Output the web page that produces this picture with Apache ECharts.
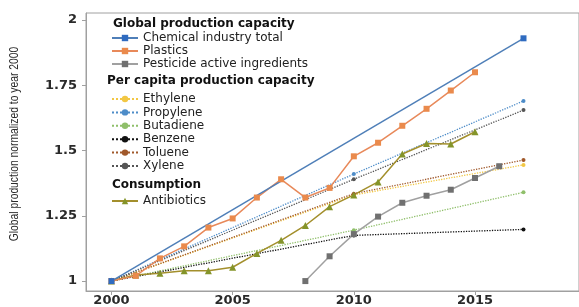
<!DOCTYPE html>
<html>
<head>
<meta charset="utf-8">
<script src="https://cdn.jsdelivr.net/npm/echarts@6/dist/echarts.min.js"></script>
<style>
  html, body { margin: 0; padding: 0; background: #fff; }
  #chart { width: 579px; height: 307px; }
</style>
</head>
<body>
<div id="chart"></div>
<script>
// 年份
const years = [2000, 2001, 2002, 2003, 2004, 2005, 2006, 2007, 2008, 2009, 2010, 2011, 2012, 2013, 2014, 2015, 2016, 2017];
const xTicks = [2000, 2005, 2010, 2015];
const yTicks = [1, 1.25, 1.5, 1.75, 2];

// Global production capacity
const chemTotalYears = [2000, 2017];
const chemTotal = [1.0, 1.93];
const plastics = [1.0, 1.02, 1.087, 1.133, 1.205, 1.24, 1.32, 1.39, 1.32, 1.357, 1.478, 1.53, 1.595, 1.66, 1.73, 1.80];
const pesticideYears = [2008, 2009, 2010, 2011, 2012, 2013, 2014, 2015, 2016];
const pesticide = [1.0, 1.095, 1.18, 1.247, 1.30, 1.327, 1.35, 1.395, 1.44];

// Per capita production capacity (2000, 2010, 2017)
const capitaYears = [2000, 2010, 2017];
const ethylene = [1.0, 1.33, 1.445];
const propylene = [1.0, 1.41, 1.69];
const butadiene = [1.0, 1.195, 1.34];
const benzene = [1.0, 1.175, 1.198];
const toluene = [1.0, 1.335, 1.464];
const xylene = [1.0, 1.39, 1.655];

// Consumption
const antibiotics = [1.0, 1.023, 1.03, 1.04, 1.04, 1.053, 1.106, 1.156, 1.213, 1.285, 1.33, 1.38, 1.487, 1.527, 1.525, 1.572];

const pair = (xs, ys) => ys.map((v, i) => [xs[i], v]);

const solidLine = (name, xs, ys, lineColor, markColor, symbol, size) => ({
  name: name,
  type: 'line',
  data: pair(xs, ys),
  symbol: symbol,
  symbolSize: size,
  showAllSymbol: true,
  lineStyle: { color: lineColor, width: 1.5 },
  itemStyle: { color: markColor },
  emphasis: { disabled: true }
});

const dotLine = (name, ys, color) => ({
  name: name,
  type: 'line',
  data: pair(capitaYears, ys),
  symbol: 'circle',
  symbolSize: 4,
  lineStyle: { color: color, width: 1.3, type: 'dotted' },
  itemStyle: { color: color },
  emphasis: { disabled: true }
});

const legendBase = {
  orient: 'vertical',
  selectedMode: false,
  itemWidth: 26,
  itemHeight: 8,
  textStyle: { fontFamily: 'DejaVu Sans', fontSize: 12, color: '#222', lineHeight: 13 }
};

const headStyle = { fontFamily: 'DejaVu Sans', fontSize: 12, fontWeight: 'bold', fill: '#111' };
const tickFont = { fontFamily: 'DejaVu Sans', fontSize: 13, fontWeight: 'bold', color: '#2a2a2a' };

const myChart = echarts.init(document.getElementById('chart'));
const option = {
  animation: false,
  grid: {
    left: 86, top: 13, right: -10, bottom: 14,
    show: true, borderColor: '#a0a0a0', borderWidth: 1
  },
  xAxis: {
    type: 'value',
    min: 1998.95,
    max: 2019.29,
    splitLine: { show: false },
    axisLine: { lineStyle: { color: '#a0a0a0' } },
    axisTick: { customValues: xTicks, length: 4, lineStyle: { color: '#a0a0a0' } },
    axisLabel: Object.assign({ customValues: xTicks, margin: 3, formatter: v => String(v) }, tickFont)
  },
  yAxis: {
    type: 'value',
    min: 0.962,
    max: 2.027,
    splitLine: { show: false },
    axisLine: { show: true, lineStyle: { color: '#a0a0a0' } },
    axisTick: { show: true, customValues: yTicks, length: 4, lineStyle: { color: '#a0a0a0' } },
    axisLabel: Object.assign({ customValues: yTicks, margin: 9 }, tickFont)
  },
  legend: [
    Object.assign({}, legendBase, {
      left: 106, top: 26.5, itemGap: 0,
      data: ['Chemical industry total', 'Plastics', 'Pesticide active ingredients']
    }),
    Object.assign({}, legendBase, {
      left: 106, top: 87.5, itemGap: 0.4,
      data: ['Ethylene', 'Propylene', 'Butadiene', 'Benzene', 'Toluene', 'Xylene']
    }),
    Object.assign({}, legendBase, {
      left: 106, top: 189.5, itemGap: 0,
      data: ['Antibiotics']
    })
  ],
  graphic: [
    { type: 'text', left: 113, top: 18, style: Object.assign({ text: 'Global production capacity' }, headStyle) },
    { type: 'text', left: 107, top: 75, style: Object.assign({ text: 'Per capita production capacity' }, headStyle) },
    { type: 'text', left: 112, top: 179, style: Object.assign({ text: 'Consumption' }, headStyle) },
    {
      // 纵轴标题（窄字体效果用 scaleX 压缩）
      type: 'text', x: 15, y: 144, rotation: Math.PI / 2, scaleX: 0.86,
      style: {
        text: 'Global production normalized to year 2000',
        fontFamily: 'Liberation Sans', fontSize: 12, fill: '#2a2a2a',
        align: 'center', verticalAlign: 'middle'
      }
    }
  ],
  series: [
    dotLine('Ethylene', ethylene, '#f2c744'),
    dotLine('Propylene', propylene, '#4d8cc8'),
    dotLine('Butadiene', butadiene, '#8fbf6a'),
    dotLine('Benzene', benzene, '#111111'),
    dotLine('Toluene', toluene, '#a0582a'),
    dotLine('Xylene', xylene, '#555555'),
    solidLine('Pesticide active ingredients', pesticideYears, pesticide, '#a0a0a0', '#707070', 'rect', 6),
    solidLine('Antibiotics', years.slice(0, antibiotics.length), antibiotics, '#a38f2c', '#84942a', 'triangle', 7),
    solidLine('Plastics', years.slice(0, plastics.length), plastics, '#e8895a', '#ea8a4c', 'rect', 6),
    solidLine('Chemical industry total', chemTotalYears, chemTotal, '#4f7fb8', '#2f6bc0', 'rect', 6)
  ]
};
myChart.setOption(option, true);
</script>
</body>
</html>
